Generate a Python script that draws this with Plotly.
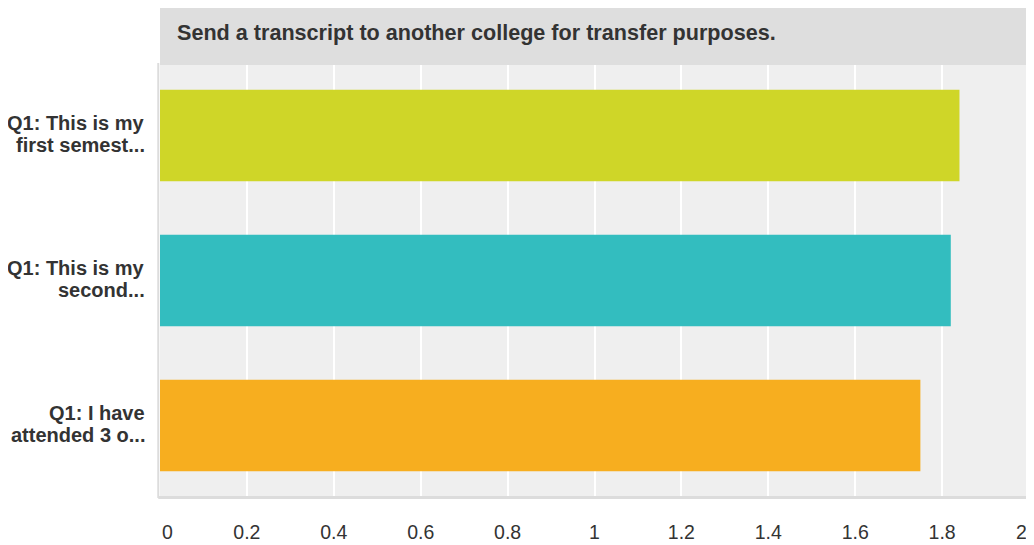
import plotly.graph_objects as go

categories = ["Q1: This is my<br>first semest...", "Q1: This is my<br>second...", "Q1: I have<br>attended 3 o..."]
values = [1.84, 1.82, 1.75]
colors = ["#cfd628", "#33bdbf", "#f7ae1f"]
tick_vals = [0, 0.2, 0.4, 0.6, 0.8, 1, 1.2, 1.4, 1.6, 1.8, 2]
tick_text = ["0", "0.2", "0.4", "0.6", "0.8", "1", "1.2", "1.4", "1.6", "1.8", "2"]
title = "Send a transcript to another college for transfer purposes."

# page body adds an 8px offset, so the figure is sized accordingly
W, H = 1026, 537
ml, mr, mt, mb = 152, 5, 55, 47
plot_h = H - mt - mb
FONT = "Liberation Sans, Arial, Helvetica, sans-serif"
TICK_FS = 19.5

fig = go.Figure()
fig.add_trace(go.Bar(
    x=values, y=categories, orientation="h",
    marker=dict(color=colors, line=dict(width=0)),
    width=0.63, hoverinfo="x+y",
))

annotations = [
    dict(text="<b>" + title + "</b>", xref="paper", yref="paper",
         x=15 / (W - ml - mr), y=1 + (55 / 2 + 3) / plot_h,
         xanchor="left", yanchor="middle", showarrow=False,
         font=dict(size=21.6, color="#333333", family=FONT)),
]
for cat in categories:
    lines = cat.split("<br>")
    n = len(lines)
    for i, line in enumerate(lines):
        annotations.append(dict(
            text="<b>" + line + "</b>", xref="paper", yref="y",
            x=0, y=cat, xanchor="right", yanchor="middle",
            xshift=-13, yshift=(-(i - (n - 1) / 2) * 22) + 2,
            showarrow=False,
            font=dict(size=20, color="#333333", family=FONT),
        ))

# first and last tick labels are aligned to the plot edges (as in the reference)
axis_text = list(tick_text)
for idx, anchor in ((0, "left"), (len(tick_vals) - 1, "right")):
    axis_text[idx] = " "
    annotations.append(dict(
        text=tick_text[idx], xref="x", yref="paper",
        x=tick_vals[idx], y=0, xanchor=anchor, yanchor="middle",
        yshift=-34, showarrow=False,
        font=dict(size=TICK_FS, color="#333333", family=FONT),
    ))

fig.update_layout(
    width=W, height=H,
    margin=dict(l=ml, r=mr, t=mt, b=mb, pad=0, autoexpand=False),
    paper_bgcolor="white",
    plot_bgcolor="#efefef",
    showlegend=False,
    font=dict(family=FONT, color="#333333"),
    xaxis=dict(
        range=[0, 2], tickvals=tick_vals, ticktext=axis_text,
        showgrid=True, gridcolor="white", gridwidth=2,
        zeroline=False, showline=False, automargin=False,
        tickfont=dict(size=TICK_FS, color="#333333"),
        ticks="outside", ticklen=17, tickcolor="rgba(0,0,0,0)",
        fixedrange=True,
    ),
    yaxis=dict(
        range=[2.5, -0.5],
        showgrid=False, zeroline=False, showline=False, automargin=False,
        showticklabels=False,
        fixedrange=True,
    ),
    shapes=[
        dict(type="rect", xref="paper", yref="paper",
             x0=0, x1=1, y0=1 - 2 / plot_h, y1=1 + 55 / plot_h,
             fillcolor="#dedede", line=dict(width=0), layer="above"),
        dict(type="line", xref="paper", yref="paper",
             x0=-0.002, x1=-0.002, y0=0, y1=1,
             line=dict(color="#dcdcdc", width=2)),
        dict(type="line", xref="paper", yref="paper",
             x0=-0.002, x1=1, y0=0.5 / plot_h, y1=0.5 / plot_h,
             line=dict(color="#dcdcdc", width=3)),
    ],
    annotations=annotations,
)

fig.write_html("out.html")
